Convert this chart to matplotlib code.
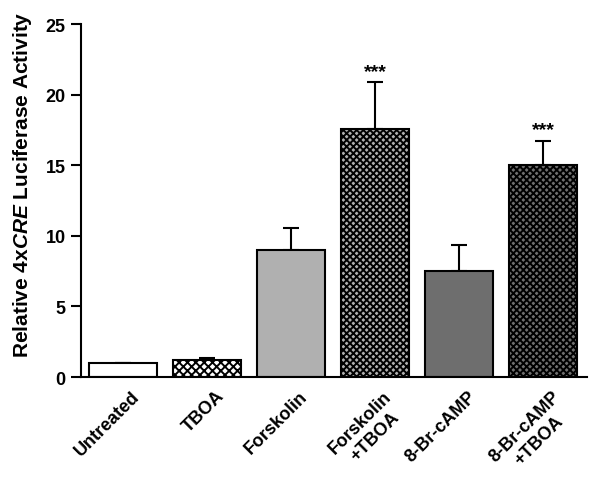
import matplotlib.pyplot as plt
import matplotlib.transforms as mtransforms
import numpy as np

plt.rcParams['font.family'] = ['Liberation Sans', 'DejaVu Sans']
plt.rcParams['font.weight'] = 'bold'
plt.rcParams['mathtext.fontset'] = 'custom'
plt.rcParams['mathtext.it'] = 'Liberation Sans:italic:bold'
plt.rcParams['hatch.linewidth'] = 1.4

# data
labels = ['Untreated', 'TBOA', 'Forskolin', 'Forskolin\n+TBOA', '8-Br-cAMP', '8-Br-cAMP\n+TBOA']
values = [1.0, 1.2, 9.0, 17.6, 7.5, 15.0]
errors = [0.0, 0.15, 1.55, 3.3, 1.85, 1.75]
stars = ['', '', '', '***', '', '***']
colors = ['white', 'white', '#b0b0b0', '#b0b0b0', '#6e6e6e', '#707070']
hatches = ['', 'xxxx', '', 'xxxxx', '', 'xxxxx']

fig = plt.figure(figsize=(6.08, 4.81), dpi=100)
ax = fig.add_axes([0.133, 0.214, 0.832, 0.734])

x = np.arange(len(labels))
bars = ax.bar(x, values, width=0.81, color=colors, edgecolor='black', linewidth=1.5, zorder=2)
for b, h in zip(bars, hatches):
    b.set_hatch(h)

ax.errorbar(x, values, yerr=[np.zeros(len(errors)), errors], fmt='none',
            ecolor='black', elinewidth=1.5, capsize=5.5, capthick=1.5, zorder=1)

for xi, v, e, s in zip(x, values, errors, stars):
    if s:
        ax.text(xi, v + e + 0.15, s, ha='center', va='bottom', fontsize=14, fontweight='bold')

ax.set_xlim(-0.506, 5.518)
ax.set_ylim(0, 25)
ax.set_yticks([0, 5, 10, 15, 20, 25])
ax.tick_params(axis='y', direction='out', length=7, width=1.5, labelsize=13, pad=4)
ax.tick_params(axis='x', length=0, pad=0)
ax.set_xticks(x)
ax.set_xticklabels(labels, rotation=45, ha='right', va='top', rotation_mode='anchor',
                   fontsize=13, fontweight='bold', multialignment='center')
shift = mtransforms.ScaledTranslation(0.08, -0.1, fig.dpi_scale_trans)
for lab in ax.get_xticklabels():
    lab.set_transform(lab.get_transform() + shift)

ax.set_ylabel(r'Relative 4x$\it{CRE}$ Luciferase Activity', fontsize=15, fontweight='bold')
ax.yaxis.set_label_coords(-0.093, 0.547)

ax.spines['top'].set_visible(False)
ax.spines['right'].set_visible(False)
ax.spines['left'].set_linewidth(1.5)
ax.spines['bottom'].set_linewidth(1.5)

fig.savefig('out.png', dpi=100)
